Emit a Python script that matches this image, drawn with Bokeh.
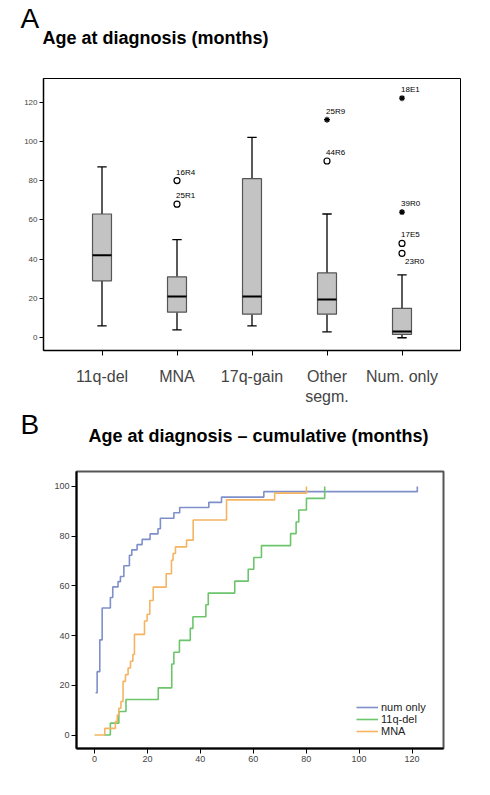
from bokeh.plotting import figure
from bokeh.models import FixedTicker, Range1d, Label
from bokeh.embed import file_html
from bokeh.resources import INLINE
from bokeh.core.properties import value

# ---------------- Panel A data (box plot) ----------------
groups = ["11q-del", "MNA", "17q-gain", "Other\nsegm.", "Num. only"]
whisker_low = [6, 4, 6, 3, 0]
q1 = [29, 13, 12, 12, 1.7]
median = [42, 21, 21, 19.5, 3.2]
q3 = [63, 31, 81, 33, 15]
whisker_high = [87, 50, 102, 63, 32]

outlier_group = [2, 2, 4, 4, 5, 5, 5, 5]
outlier_value = [80, 68, 90, 111, 122, 64, 48, 43]
outlier_label = ["16R4", "25R1", "44R6", "25R9", "18E1", "39R0", "17E5", "23R0"]
outlier_extreme = [False, False, False, True, True, True, False, False]

y_ticks_a = [0, 20, 40, 60, 80, 100, 120]

# ---------------- Panel B data (cumulative %) ----------------
num_only_age = [0.4, 1.0, 2.0, 2.9, 6.0, 6.9, 8.9, 9.8, 11.1, 13.2, 14.1, 16.1, 18.0,
                21.0, 24.0, 24.9, 30.0, 32.2, 43.2, 48.0, 64.0, 122.0]
num_only_pct = [17.0, 25.5, 38.3, 51.1, 55.3, 59.6, 61.7, 63.8, 68.1, 72.3, 74.5, 76.6, 78.7,
                80.9, 83.0, 87.2, 89.4, 91.5, 93.6, 95.7, 97.9, 100.0]

del11q_age = [3.5, 6.0, 9.2, 11.9, 24.1, 29.2, 30.0, 32.1, 36.2, 37.2, 42.1, 43.0, 53.0,
              58.1, 60.2, 63.1, 74.1, 76.2, 77.2, 80.1, 87.0]
del11q_pct = [0, 4.8, 9.5, 14.3, 19.0, 28.6, 33.3, 38.1, 42.9, 47.6, 52.4, 57.1, 61.9,
              66.7, 71.4, 76.2, 81.0, 85.7, 90.5, 95.2, 100.0]

mna_age = [0, 3.9, 7.9, 8.6, 9.2, 10.0, 10.8, 11.7, 12.7, 13.6, 14.5, 15.1, 18.9, 19.9,
           20.9, 22.2, 27.1, 29.1, 29.7, 30.6, 34.8, 37.3, 49.9, 68.1, 80.1]
mna_pct = [0, 2.7, 5.4, 8.1, 10.8, 13.5, 21.6, 24.3, 27.0, 29.7, 32.4, 40.5, 45.9, 48.6,
           54.1, 59.5, 64.9, 70.3, 73.0, 75.7, 78.4, 86.5, 94.6, 97.3, 100.0]

x_ticks_b = [0, 20, 40, 60, 80, 100, 120]
y_ticks_b = [0, 20, 40, 60, 80, 100]

FONT = "Liberation Sans"
W = 482


def header(height, letter, letter_y, title, title_x, title_y, title_align):
    h = figure(width=W, height=height, output_backend="svg", toolbar_location=None,
               x_range=Range1d(0, 1), y_range=Range1d(0, 1),
               x_axis_location=None, y_axis_location=None,
               min_border_left=0, min_border_right=0, min_border_top=0, min_border_bottom=0,
               title=None)
    h.outline_line_color = None
    h.xgrid.visible = False
    h.ygrid.visible = False
    h.add_layout(Label(x=20, y=letter_y, x_units="screen", y_units="screen", text=letter,
                       text_font=FONT, text_font_size="28px", text_color="black",
                       text_baseline="alphabetic"))
    h.add_layout(Label(x=title_x, y=title_y, x_units="screen", y_units="screen", text=title,
                       text_font=FONT, text_font_size="18px", text_font_style="bold",
                       text_color="black", text_align=title_align,
                       text_baseline="alphabetic"))
    return h


# ---------------- Header A ----------------
ha = header(52, "A", 34, "Age at diagnosis (months)", 42, 15, "left")

# ---------------- Panel A ----------------
pos = list(range(1, len(groups) + 1))
BOX_W = 0.253
CAP_W = 0.125

pa = figure(width=W, height=355, output_backend="svg", toolbar_location=None,
            x_range=Range1d(0.22, 5.78), y_range=Range1d(-6.5, 132),
            min_border_left=43, min_border_right=22, min_border_top=26, min_border_bottom=57,
            title=None)
pa.xgrid.visible = False
pa.ygrid.visible = False
pa.outline_line_color = "black"
pa.outline_line_width = 1
pa.background_fill_color = "white"

pa.yaxis.ticker = FixedTicker(ticks=y_ticks_a)
pa.yaxis.major_label_text_font = FONT
pa.yaxis.major_label_text_font_size = "8px"
pa.yaxis.major_tick_out = 4
pa.yaxis.major_tick_in = 0
pa.yaxis.minor_tick_line_color = None
pa.yaxis.axis_line_width = 1.5
pa.yaxis.major_label_standoff = 2

pa.xaxis.ticker = FixedTicker(ticks=pos)
pa.xaxis.major_label_overrides = {p_: g for p_, g in zip(pos, groups)}
pa.xaxis.major_label_text_font = FONT
pa.xaxis.major_label_text_font_size = "16px"
pa.xaxis.major_label_standoff = 12
pa.xaxis.major_tick_out = 5
pa.xaxis.major_tick_in = 0
pa.xaxis.minor_tick_line_color = None
pa.xaxis.axis_line_width = 1.5

# whiskers
pa.segment(x0=pos, y0=q3, x1=pos, y1=whisker_high, line_color="black", line_width=1.3)
pa.segment(x0=pos, y0=q1, x1=pos, y1=whisker_low, line_color="black", line_width=1.3)
pa.segment(x0=[p_ - CAP_W / 2 for p_ in pos], y0=whisker_high,
           x1=[p_ + CAP_W / 2 for p_ in pos], y1=whisker_high, line_color="black", line_width=1.3)
pa.segment(x0=[p_ - CAP_W / 2 for p_ in pos], y0=whisker_low,
           x1=[p_ + CAP_W / 2 for p_ in pos], y1=whisker_low, line_color="black", line_width=1.3)
# boxes
pa.vbar(x=pos, width=BOX_W, bottom=q1, top=q3, fill_color="#c3c3c3",
        line_color="#555555", line_width=1.2)
pa.segment(x0=[p_ - BOX_W / 2 for p_ in pos], y0=median,
           x1=[p_ + BOX_W / 2 for p_ in pos], y1=median, line_color="black", line_width=2)

# outliers
oc_x = [g for g, e in zip(outlier_group, outlier_extreme) if not e]
oc_y = [v for v, e in zip(outlier_value, outlier_extreme) if not e]
os_x = [g for g, e in zip(outlier_group, outlier_extreme) if e]
os_y = [v for v, e in zip(outlier_value, outlier_extreme) if e]
pa.scatter(x=oc_x, y=oc_y, marker="circle", size=6, fill_color="white",
           line_color="black", line_width=1.2)
pa.scatter(x=os_x, y=os_y, marker="asterisk", size=6, line_color="black", line_width=1.3)

lbl_below = [lab == "23R0" for lab in outlier_label]
ab_x = [g for g, b in zip(outlier_group, lbl_below) if not b]
ab_y = [v for v, b in zip(outlier_value, lbl_below) if not b]
ab_t = [t for t, b in zip(outlier_label, lbl_below) if not b]
be_x = [g for g, b in zip(outlier_group, lbl_below) if b]
be_y = [v for v, b in zip(outlier_value, lbl_below) if b]
be_t = [t for t, b in zip(outlier_label, lbl_below) if b]
pa.text(x=ab_x, y=ab_y, text=ab_t, text_font=value(FONT), text_font_size="8px",
        text_baseline="bottom", text_align="left", x_offset=-1, y_offset=-4, text_color="black")
pa.text(x=be_x, y=be_y, text=be_t, text_font=value(FONT), text_font_size="8px",
        text_baseline="top", text_align="left", x_offset=3, y_offset=4, text_color="black")

# ---------------- Header B ----------------
hb = header(44, "B", 27, "Age at diagnosis \u2013 cumulative (months)", 258, 16, "center")

# ---------------- Panel B ----------------
pb = figure(width=W, height=336, output_backend="svg", toolbar_location=None,
            x_range=Range1d(-6.8, 131.9), y_range=Range1d(-5.4, 106),
            min_border_left=76, min_border_right=39, min_border_top=20, min_border_bottom=39,
            title=None)
pb.xgrid.visible = False
pb.ygrid.visible = False
pb.outline_line_color = "#555555"
pb.outline_line_width = 2

for ax, ticks in ((pb.xaxis, x_ticks_b), (pb.yaxis, y_ticks_b)):
    ax.ticker = FixedTicker(ticks=ticks)
    ax.major_label_text_font = FONT
    ax.major_label_text_font_size = "9px"
    ax.major_tick_out = 5
    ax.major_tick_in = 0
    ax.minor_tick_line_color = None
    ax.axis_line_width = 2
    ax.major_label_standoff = 2

pb.step(x=num_only_age, y=num_only_pct, mode="after", line_color="#7f8fca",
        line_width=1.6, legend_label="num only")
pb.step(x=del11q_age, y=del11q_pct, mode="after", line_color="#6cc56c",
        line_width=1.6, legend_label="11q-del")
pb.step(x=mna_age, y=mna_pct, mode="after", line_color="#f4b462",
        line_width=1.6, legend_label="MNA")

lg = pb.legend[0]
lg.location = (280, 11)
lg.border_line_alpha = 0
lg.background_fill_alpha = 0
lg.label_text_font = FONT
lg.label_text_font_size = "11px"
lg.label_text_color = "#222222"
lg.glyph_width = 22
lg.glyph_height = 12
lg.label_height = 12
lg.spacing = 0
lg.padding = 0
lg.margin = 0
lg.label_standoff = 3

open("out.html", "w").write(file_html([ha, pa, hb, pb], INLINE))
